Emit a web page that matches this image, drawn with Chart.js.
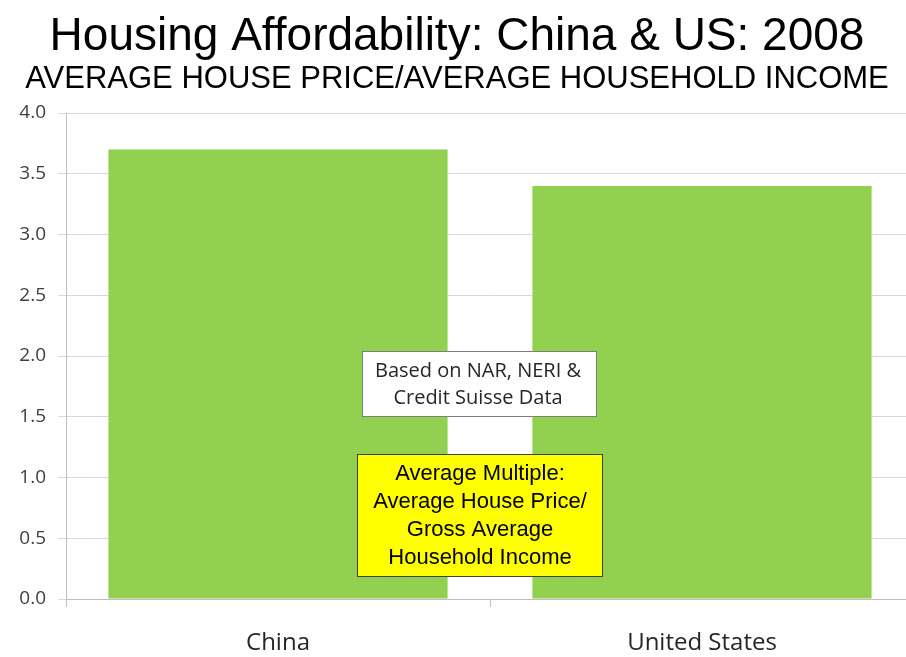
<!DOCTYPE html>
<html>
<head>
<meta charset="utf-8">
<script src="https://cdn.jsdelivr.net/npm/chart.js@4.4.0/dist/chart.umd.min.js"></script>
<style>
  html, body { margin: 0; padding: 0; background: #fff; overflow: hidden; }
  #marco { position: absolute; left: 0; top: 0; width: 916px; height: 657px; }
</style>
</head>
<body>
<div id="marco"><canvas id="grafico"></canvas></div>
<script>
// Datos del gráfico
const paises = ["China", "United States"];
const multiplos = [3.7, 3.4];
const notaFuente = ["Based on NAR, NERI &", "Credit Suisse Data"];
const notaDefinicion = ["Average Multiple:", "Average House Price/", "Gross Average", "Household Income"];

// Cajas de texto sobre el área de gráfico (posición en unidades del eje)
const cajasNotas = {
    id: "cajasNotas",
    afterDatasetsDraw(chart) {
        const { ctx, scales: { x, y } } = chart;
        const cx = x.getPixelForValue(0.5) - 11;
        ctx.save();

        // caja blanca de la fuente
        let top = Math.round(y.getPixelForValue(2.045)), bot = Math.round(y.getPixelForValue(1.5));
        ctx.fillStyle = "#ffffff";
        ctx.strokeStyle = "#7f7f7f";
        ctx.lineWidth = 1;
        ctx.fillRect(cx - 117, top, 235, bot - top);
        ctx.strokeRect(cx - 117 + 0.5, top + 0.5, 234, bot - top - 1);
        ctx.fillStyle = "#262626";
        ctx.font = "20px 'Open Sans', sans-serif";
        ctx.textAlign = "center";
        ctx.textBaseline = "middle";
        ctx.fillText(notaFuente[0], cx - 1, top + 20);
        ctx.fillText(notaFuente[1], cx - 1, top + 47);

        // caja amarilla de la definición
        top = Math.round(y.getPixelForValue(1.19)); bot = Math.round(y.getPixelForValue(0.18));
        ctx.fillStyle = "#ffff00";
        ctx.strokeStyle = "#404040";
        ctx.fillRect(cx - 122, top, 246, bot - top);
        ctx.strokeRect(cx - 122 + 0.5, top + 0.5, 245, bot - top - 1);
        ctx.fillStyle = "#000000";
        ctx.font = "22px 'Liberation Sans', Arial, sans-serif";
        notaDefinicion.forEach((linea, i) => ctx.fillText(linea, cx + 1, top + 20 + i * 28));
        ctx.restore();
    }
};

new Chart(document.getElementById("grafico"), {
    type: "bar",
    data: {
        labels: paises,
        datasets: [{
            data: multiplos,
            backgroundColor: "#92d050",
            borderWidth: 0,
            barPercentage: 0.8,
            categoryPercentage: 1.0
        }]
    },
    options: {
        responsive: true,
        maintainAspectRatio: false,
        animation: false,
        layout: { padding: { left: 0, right: 2, top: 0, bottom: 0 } },
        plugins: {
            legend: { display: false },
            tooltip: { enabled: false },
            title: {
                display: true,
                text: "Housing Affordability: China & US: 2008",
                color: "#000000",
                font: { family: "'Liberation Sans', Arial, sans-serif", size: 46, weight: "normal", lineHeight: 1.0 },
                padding: { top: 14, bottom: 4 }
            },
            subtitle: {
                display: true,
                text: "AVERAGE HOUSE PRICE/AVERAGE HOUSEHOLD INCOME",
                color: "#000000",
                font: { family: "'Liberation Sans', Arial, sans-serif", size: 31, weight: "normal", lineHeight: 1.0 },
                padding: { top: 0, bottom: 18 }
            }
        },
        scales: {
            x: {
                grid: { display: true, drawOnChartArea: false, offset: true, color: "#bfbfbf", tickLength: 8 },
                border: { color: "#bfbfbf" },
                ticks: {
                    color: "#262626",
                    padding: 22,
                    font: { family: "'Open Sans', sans-serif", size: 24 }
                },
                afterFit(scale) { scale.height = 58; }
            },
            y: {
                min: 0,
                max: 4,
                ticks: {
                    stepSize: 0.5,
                    color: "#404040",
                    padding: 12,
                    font: { family: "'Open Sans', sans-serif", size: 19 },
                    callback: v => v.toFixed(1)
                },
                grid: { color: "#d9d9d9", tickLength: 8 },
                border: { color: "#bfbfbf" },
                afterFit(scale) { scale.width = 66; }
            }
        }
    },
    plugins: [cajasNotas]
});
</script>
</body>
</html>
